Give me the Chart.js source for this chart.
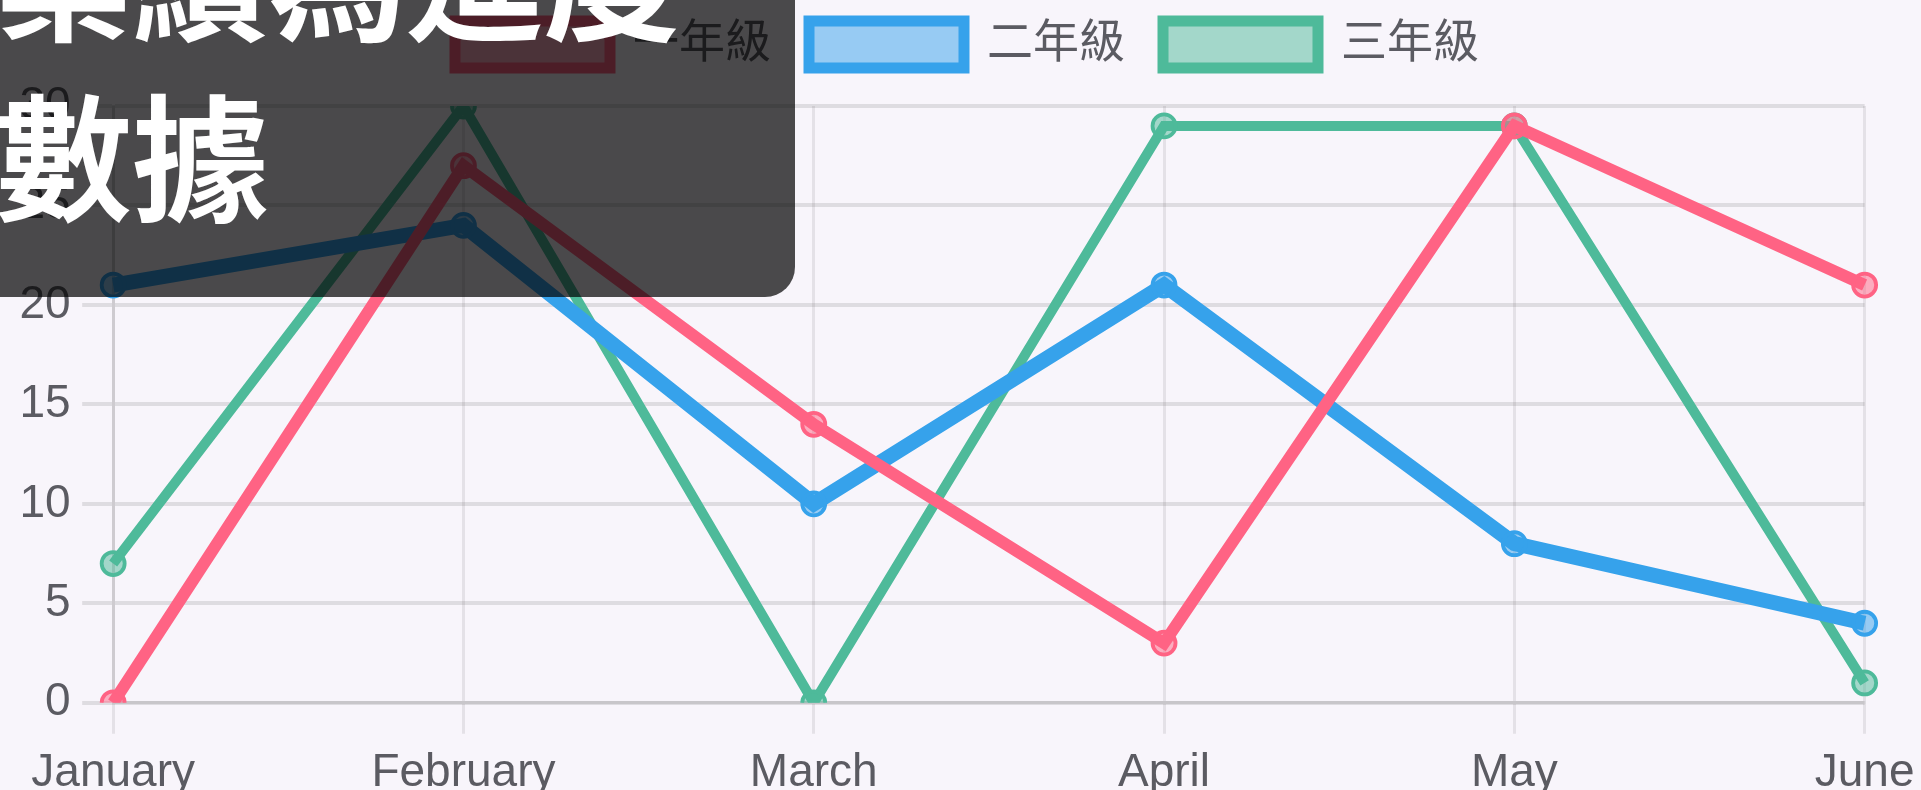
<!DOCTYPE html>
<html>
<head>
<meta charset="utf-8">
<script src="https://cdn.jsdelivr.net/npm/chart.js@4.4.1/dist/chart.umd.min.js"></script>
<style>
html,body{margin:0;padding:0;width:1921px;height:790px;overflow:hidden;background:#f8f5fb;}
#wrap{position:absolute;left:8px;top:-17px;width:1918px;height:829px;}
#overlay{position:absolute;left:-40px;top:-40px;width:835px;height:337px;background:rgba(0,0,0,0.7);border-radius:30px;}
#title{position:absolute;left:-5px;top:-119px;margin:0;color:#fff;font-family:'Noto Sans CJK TC','Noto Sans CJK SC',sans-serif;font-weight:700;font-size:137px;line-height:180px;white-space:nowrap;}
</style>
</head>
<body>
<div id="wrap"><canvas id="c"></canvas></div>
<div id="overlay"></div>
<div id="title">業績為進度<br>數據</div>
<script>
const months = ['January', 'February', 'March', 'April', 'May', 'June'];
const seriesNames = ['一年級', '二年級', '三年級'];
const grade1 = [0, 27, 14, 3, 29, 21];
const grade2 = [21, 24, 10, 21, 8, 4];
const grade3 = [7, 30, 0, 29, 29, 1];
const yMin = 0, yMax = 30, yStep = 5;

const FONT = "'Liberation Sans', 'Noto Sans CJK TC', sans-serif";
const TICK_COLOR = '#5b5b62';
const GRID = 'rgba(0,0,0,0.10)';

const legendSpacer = {
  id: 'legendSpacer',
  beforeInit(chart) {
    const lg = chart.legend;
    if (!lg) return;
    const orig = lg.fit.bind(lg);
    lg.fit = function () { orig(); this.height += 28; };
  }
};

function ds(label, data, color, fill, width) {
  return {
    label, data,
    borderColor: color,
    backgroundColor: fill,
    borderWidth: width,
    pointBackgroundColor: fill,
    pointBorderColor: color,
    pointRadius: 11.5,
    pointBorderWidth: 3.8,
    tension: 0,
    fill: false
  };
}

new Chart(document.getElementById('c'), {
  type: 'line',
  data: {
    labels: months,
    datasets: [
      ds(seriesNames[0], grade1, 'rgb(255,99,132)', 'rgba(255,99,132,0.5)', 12),
      ds(seriesNames[1], grade2, 'rgb(54,162,235)', 'rgba(54,162,235,0.5)', 15),
      ds(seriesNames[2], grade3, 'rgb(78,186,154)', 'rgba(78,186,154,0.5)', 10)
    ]
  },
  options: {
    responsive: true,
    maintainAspectRatio: false,
    animation: false,
    devicePixelRatio: 1,
    layout: { padding: 0 },
    plugins: {
      tooltip: { enabled: false },
      legend: {
        position: 'top',
        labels: {
          boxWidth: 155,
          boxHeight: 47,
          padding: 38,
          color: TICK_COLOR,
          font: { size: 46, family: FONT },
          generateLabels(chart) {
            const items = Chart.defaults.plugins.legend.labels.generateLabels(chart);
            items.forEach(it => { it.lineWidth = 11; });
            return items;
          }
        }
      }
    },
    scales: {
      x: {
        grid: { color: 'rgba(0,0,0,0.08)', lineWidth: 3, tickLength: 31 },
        border: { color: GRID, width: 3 },
        ticks: { color: TICK_COLOR, font: { size: 46, family: FONT }, padding: 11.5, maxRotation: 0, autoSkip: false }
      },
      y: {
        min: yMin, max: yMax,
        grid: { color: GRID, lineWidth: 4, tickLength: 31 },
        border: { color: GRID, width: 3 },
        ticks: { stepSize: yStep, color: TICK_COLOR, font: { size: 46, family: FONT }, padding: 11.5 }
      }
    }
  },
  plugins: [legendSpacer]
});
</script>
</body>
</html>
